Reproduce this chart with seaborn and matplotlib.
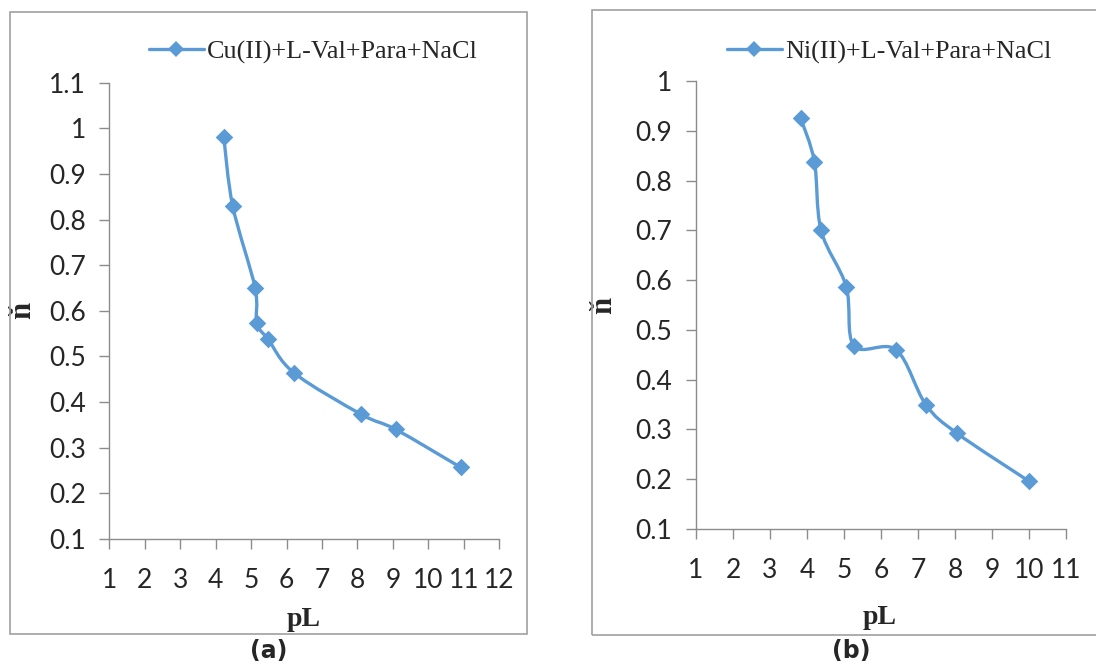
import numpy as np
import pandas as pd
import matplotlib
matplotlib.use('Agg')
import matplotlib.pyplot as plt
import seaborn as sns
from matplotlib.path import Path
from matplotlib.patches import PathPatch, Rectangle
from matplotlib.lines import Line2D

# data
cu_pL = [4.23, 4.48, 5.11, 5.16, 5.48, 6.21, 8.11, 9.08, 10.91]
cu_n = [0.980, 0.830, 0.651, 0.573, 0.538, 0.464, 0.373, 0.340, 0.257]
ni_pL = [3.83, 4.20, 4.38, 5.06, 5.27, 6.41, 7.21, 8.06, 10.0]
ni_n = [0.925, 0.838, 0.700, 0.587, 0.468, 0.460, 0.350, 0.292, 0.196]

cu_label = 'Cu(II)+L-Val+Para+NaCl'
ni_label = 'Ni(II)+L-Val+Para+NaCl'
cu_xticks = list(range(1, 13))
cu_yticks = [0.1, 0.2, 0.3, 0.4, 0.5, 0.6, 0.7, 0.8, 0.9, 1, 1.1]
ni_xticks = list(range(1, 12))
ni_yticks = [0.1, 0.2, 0.3, 0.4, 0.5, 0.6, 0.7, 0.8, 0.9, 1]

sns.set_style('white')
plt.rcParams['font.family'] = ['DejaVu Sans']

BLUE = '#5B9BD5'
TICK_FONT = ['Lato', 'DejaVu Sans']
SERIF = ['Liberation Serif', 'DejaVu Serif']


def smooth_path(x, y):
    # excel-like smoothed line: bezier segments through the data points
    pts = np.column_stack([x, y])
    n = len(pts)
    verts = [pts[0]]
    codes = [Path.MOVETO]
    for i in range(n - 1):
        p0 = pts[i - 1] if i > 0 else pts[i]
        p1 = pts[i]
        p2 = pts[i + 1]
        p3 = pts[i + 2] if i + 2 < n else pts[i + 1]
        c1 = p1 + (p2 - p0) / 6
        c2 = p2 - (p3 - p1) / 6
        verts += [c1, c2, p2]
        codes += [Path.CURVE4] * 3
    return Path(verts, codes)


def panel(ax, x, y, label, xticks, yticks, xlim, ylim, leg_xy, ylab_xy, xlab_xy):
    df = pd.DataFrame({'pL': x, 'n': y})
    ax.add_patch(PathPatch(smooth_path(df['pL'], df['n']), facecolor='none',
                           edgecolor=BLUE, lw=2.4, zorder=2, capstyle='round'))
    sns.scatterplot(data=df, x='pL', y='n', marker='D', s=80, color=BLUE,
                    edgecolor=BLUE, linewidth=0, zorder=3, ax=ax, legend=False)
    ax.set_xlim(*xlim)
    ax.set_ylim(*ylim)
    ax.set_xticks(xticks)
    ax.set_yticks(yticks)
    ax.set_xticklabels([f'{t:g}' for t in xticks], family=TICK_FONT, fontsize=19, color='#262626')
    ax.set_yticklabels([f'{t:g}' for t in yticks], family=TICK_FONT, fontsize=19, color='#262626')
    for s in ['top', 'right']:
        ax.spines[s].set_visible(False)
    for s in ['left', 'bottom']:
        ax.spines[s].set_color('#8C8C8C')
        ax.spines[s].set_linewidth(1.0)
    ax.tick_params(axis='both', direction='out', length=7, width=1, color='#8C8C8C',
                   bottom=True, left=True)
    ax.tick_params(axis='y', pad=10)
    ax.tick_params(axis='x', pad=14)
    ax.set_xlabel('pL', family=SERIF, fontweight='bold', fontsize=20)
    ax.set_ylabel('ň', family=SERIF, fontweight='bold', fontsize=22)
    ax.xaxis.set_label_coords(*xlab_xy)
    ax.yaxis.set_label_coords(*ylab_xy)
    handle = Line2D([], [], color=BLUE, lw=2.4, marker='D', markersize=8.5, markeredgewidth=0)
    ax.legend([handle], [label], loc='center left', bbox_to_anchor=leg_xy,
              bbox_transform=ax.figure.transFigure, frameon=False, borderpad=0,
              borderaxespad=0, handlelength=2.1, handletextpad=0.12,
              prop={'family': SERIF, 'size': 18.8})


fig = plt.figure(figsize=(10.96, 6.64), dpi=100)
W, H = 1096, 664

# outer frames of the two sub-figures
fig.patches.append(Rectangle((10 / W, 1 - 634 / H), 517 / W, 622 / H, transform=fig.transFigure,
                             fill=False, edgecolor='#A0A0A0', lw=1.2))
fig.patches.append(Rectangle((592 / W, 1 - 635 / H), 520 / W, 625 / H, transform=fig.transFigure,
                             fill=False, edgecolor='#A0A0A0', lw=1.2))

ax1 = fig.add_axes([109.3 / W, 1 - 539 / H, 390 / W, 456.3 / H])
ax2 = fig.add_axes([696 / W, 1 - 529 / H, 370 / W, 448 / H])

panel(ax1, cu_pL, cu_n, cu_label, cu_xticks, cu_yticks, (1, 12), (0.1, 1.1),
      (149 / W, 1 - 52 / H), (-0.185, 0.5), (0.499, -0.149))
panel(ax2, ni_pL, ni_n, ni_label, ni_xticks, ni_yticks, (1, 11), (0.1, 1.0),
      (727 / W, 1 - 52 / H), (-0.21, 0.5), (0.497, -0.17))

fig.text(269 / W, 1 - 651 / H, '(a)', ha='center', va='center', fontsize=17, fontweight='bold')
fig.text(851 / W, 1 - 651 / H, '(b)', ha='center', va='center', fontsize=17, fontweight='bold')

fig.savefig('out.png', dpi=100)
